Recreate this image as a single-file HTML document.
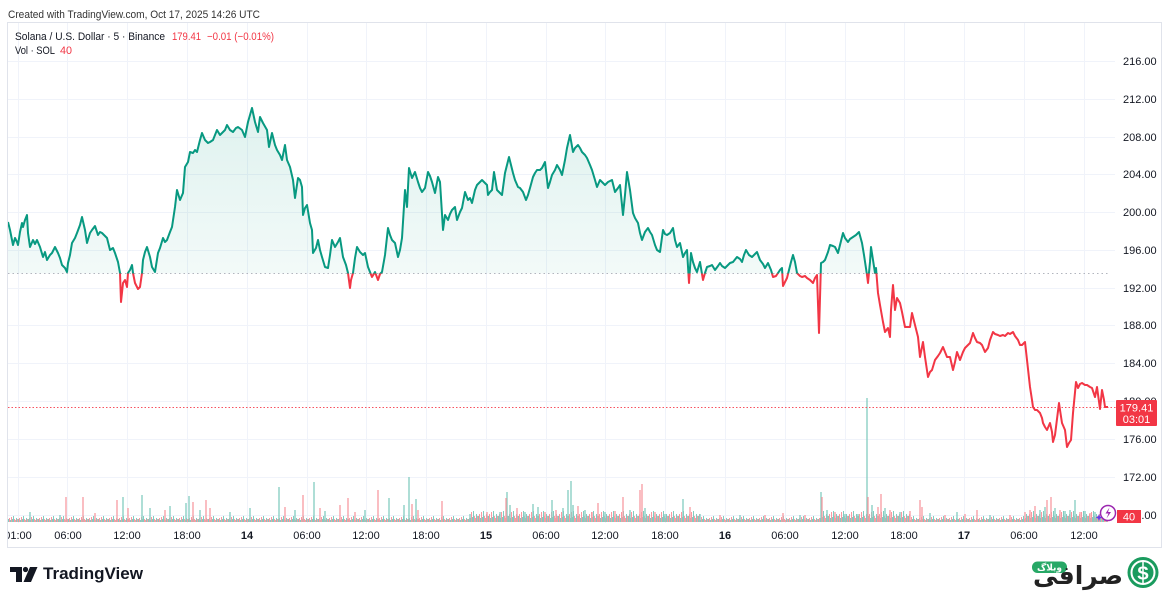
<!DOCTYPE html>
<html><head><meta charset="utf-8"><style>
html,body{margin:0;padding:0;background:#fff;}
svg{display:block;}
text{font-family:"Liberation Sans","DejaVu Sans",sans-serif;}
</style></head><body>
<svg width="1172" height="597" viewBox="0 0 1172 597" xmlns="http://www.w3.org/2000/svg">
<defs>
<clipPath id="chart"><rect x="8" y="23" width="1153" height="524"/></clipPath>
<clipPath id="up"><rect x="0" y="0" width="1172" height="273.5"/></clipPath>
<clipPath id="dn"><rect x="0" y="273.5" width="1172" height="330"/></clipPath>
<linearGradient id="gfill" gradientUnits="userSpaceOnUse" x1="0" y1="108" x2="0" y2="273.5">
<stop offset="0" stop-color="#089981" stop-opacity="0.13"/><stop offset="1" stop-color="#089981" stop-opacity="0.05"/></linearGradient>
<linearGradient id="rfill" gradientUnits="userSpaceOnUse" x1="0" y1="273.5" x2="0" y2="447">
<stop offset="0" stop-color="#F23645" stop-opacity="0.08"/><stop offset="1" stop-color="#F23645" stop-opacity="0.13"/></linearGradient>
<pattern id="pa" patternUnits="userSpaceOnUse" x="8" y="510" width="10" height="12">
<rect x="0" y="9" width="1" height="3" fill="#83ccc0"/><rect x="1" y="8" width="1" height="4" fill="#f89aa2"/>
<rect x="2" y="10" width="1" height="2" fill="#83ccc0"/><rect x="3" y="7" width="1" height="5" fill="#f89aa2"/>
<rect x="4" y="9" width="1" height="3" fill="#83ccc0"/><rect x="5" y="6" width="1" height="6" fill="#83ccc0"/>
<rect x="6" y="9" width="1" height="3" fill="#f89aa2"/><rect x="7" y="10" width="1" height="2" fill="#f89aa2"/>
<rect x="8" y="8" width="1" height="4" fill="#83ccc0"/><rect x="9" y="9" width="1" height="3" fill="#f89aa2"/>
</pattern>
<pattern id="pb" patternUnits="userSpaceOnUse" x="8" y="506" width="10" height="16">
<rect x="0" y="10" width="1" height="6" fill="#83ccc0"/><rect x="1" y="8" width="1" height="8" fill="#f89aa2"/>
<rect x="2" y="12" width="1" height="4" fill="#83ccc0"/><rect x="3" y="6" width="1" height="10" fill="#f89aa2"/>
<rect x="4" y="11" width="1" height="5" fill="#83ccc0"/><rect x="5" y="5" width="1" height="11" fill="#83ccc0"/>
<rect x="6" y="10" width="1" height="6" fill="#f89aa2"/><rect x="7" y="12" width="1" height="4" fill="#f89aa2"/>
<rect x="8" y="8" width="1" height="8" fill="#83ccc0"/><rect x="9" y="10" width="1" height="6" fill="#f89aa2"/>
</pattern>
</defs>

<!-- header -->
<text x="8" y="18" font-size="11" fill="#333" textLength="252" lengthAdjust="spacingAndGlyphs">Created with TradingView.com, Oct 17, 2025 14:26 UTC</text>

<!-- frame -->
<rect x="7.5" y="22.5" width="1154" height="525" fill="none" stroke="#e0e3eb" stroke-width="1"/>

<g clip-path="url(#chart)">
<!-- grid -->
<g stroke="#f0f3fa" stroke-width="1">
<path d="M18.5 23V523M67.5 23V523M127.5 23V523M187.5 23V523M247.5 23V523M307.5 23V523M366.5 23V523M426.5 23V523M486.5 23V523M546.5 23V523M605.5 23V523M665.5 23V523M725.5 23V523M785.5 23V523M845.5 23V523M904.5 23V523M964.5 23V523M1024.5 23V523M1084.5 23V523"/>
<path d="M8 61.5H1115M8 99.5H1115M8 137.5H1115M8 174.5H1115M8 212.5H1115M8 250.5H1115M8 288.5H1115M8 325.5H1115M8 363.5H1115M8 401.5H1115M8 439.5H1115M8 477.5H1115M8 515.5H1115"/>
</g>

<!-- volume -->
<rect x="8" y="510" width="1100" height="12" fill="url(#pa)"/>
<rect x="470" y="506" width="230" height="16" fill="url(#pb)"/>
<rect x="820" y="506" width="90" height="16" fill="url(#pb)"/>
<rect x="1025" y="506" width="80" height="16" fill="url(#pb)"/>
<path stroke="#83ccc0" stroke-width="1.3" fill="none" d="M123 522V497M142 522V495M186 522V503M189 522V496M279 522V487M314 522V482M389 522V498M30 522V512M60 522V515M150 522V508M170 522V506M200 522V510M230 522V512M250 522V508M295 522V510M325 522V511M365 522V510M404 522V505M409 522V477M416 522V499M470 522V514M500 522V512M507 522V492M510 522V505M525 522V512M533 522V504M538 522V507M552 522V500M563 522V508M568 522V490M571 522V481M573 522V505M585 522V510M605 522V512M630 522V510M645 522V508M665 522V514M683 522V499M700 522V514M740 522V515M800 522V515M821 522V492M827 522V510M845 522V514M858 522V514M867 522V398M872 522V505M885 522V508M900 522V512M930 522V513M957 522V512M990 522V515M1040 522V510M1045 522V507M1055 522V508M1065 522V511M1070 522V510M1075 522V500M1085 522V511M1095 522V512"/>
<path stroke="#f89aa2" stroke-width="1.3" fill="none" d="M66 522V497M83 522V497M117 522V500M128 522V508M193 522V502M206 522V500M303 522V495M340 522V505M348 522V498M378 522V490M95 522V513M165 522V510M210 522V508M285 522V507M320 522V508M355 522V512M412 522V504M418 522V510M442 522V501M487 522V512M506 522V498M517 522V508M545 522V512M556 522V510M578 522V506M592 522V512M598 522V503M615 522V511M623 522V497M640 522V490M642 522V484M655 522V512M690 522V507M720 522V515M765 522V515M783 522V513M805 522V515M822 522V497M835 522V512M868 522V497M878 522V507M881 522V494M890 522V510M910 522V511M920 522V500M922 522V507M945 522V515M965 522V514M977 522V510M1010 522V515M1025 522V512M1030 522V510M1035 522V506M1047 522V500M1051 522V497M1060 522V510M1080 522V512M1090 522V513"/>

<!-- fills -->
<polygon id="fillpoly" clip-path="url(#up)" fill="url(#gfill)" points="8,273.5 8,222 10,230 13,245 15,238 17,242 18,245 20,232 22,223 23,227 25,220 27,215 28,233 30,247 33,240 35,244 37,240 40,247 43,257 45,252 47,260 50,255 52,253 55,247 58,253 60,258 62,265 65,268 67,272 68,263 70,255 72,243 75,238 77,233 80,225 82,217 85,230 87,243 90,233 92,230 95,226 98,235 100,232 102,233 105,236 107,238 110,250 113,248 115,253 118,262 120,273 121,302 123,283 125,280 127,287 128,273 130,270 132,265 133,273 135,283 138,289 140,287 142,273 143,260 145,252 147,247 150,257 152,267 155,272 158,253 160,248 163,238 165,242 167,240 170,232 172,227 175,207 177,190 180,200 183,193 185,167 188,162 190,152 193,153 195,150 197,152 200,140 202,133 205,140 208,143 210,142 213,140 217,130 220,135 222,133 225,130 227,125 230,130 233,132 236,128 238,127 242,130 245,137 248,122 250,115 252,108 255,122 258,132 260,117 263,123 267,130 269,147 272,133 275,145 277,150 280,155 282,160 285,145 287,160 290,167 293,180 295,198 298,178 300,180 302,187 303,215 305,208 307,205 310,223 312,230 313,253 316,248 318,240 320,250 322,257 325,267 328,268 330,255 332,240 335,247 338,242 340,238 343,257 346,265 348,273 350,288 351,280 353,273 355,258 357,247 360,252 363,255 365,253 368,267 370,272 372,277 375,272 378,280 380,274 382,272 385,255 388,228 390,235 392,240 395,243 398,257 400,250 402,238 405,190 407,207 409,168 412,178 415,172 418,182 420,188 422,192 425,188 428,172 430,176 432,182 435,193 438,177 440,182 443,230 445,215 448,220 450,214 452,210 455,207 457,220 460,212 462,208 465,192 468,200 470,198 472,203 475,190 477,185 480,182 482,180 485,183 487,185 488,195 490,192 492,190 494,172 497,190 500,193 502,195 505,173 507,165 509,157 511,165 513,173 515,180 518,187 520,188 523,192 526,200 528,195 530,188 533,177 535,173 537,170 540,170 542,168 545,162 548,188 550,182 552,175 555,170 557,165 560,170 562,175 565,160 567,148 570,135 573,152 575,148 578,145 580,148 582,152 585,155 587,158 590,165 592,170 595,180 597,187 600,180 603,183 605,185 608,182 612,180 615,192 618,188 620,185 623,215 625,195 627,172 630,190 633,213 635,218 638,223 640,233 642,240 645,232 648,228 650,232 652,235 655,245 657,250 660,252 663,230 665,234 667,235 670,233 673,228 675,240 677,247 680,243 683,257 685,253 687,250 689,283 691,253 693,262 695,268 697,272 700,262 703,280 705,273 707,267 710,266 712,265 715,270 718,266 720,263 722,266 725,268 728,265 730,263 733,262 737,257 740,259 742,262 744,255 746,250 749,255 752,257 755,254 757,252 760,260 763,264 765,268 768,263 771,270 773,277 776,276 778,273 780,270 782,268 783,286 785,282 787,278 789,270 791,262 793,255 795,262 797,273 800,276 802,277 805,276 807,278 810,280 813,283 815,278 817,275 819,333 821,263 823,262 825,260 828,252 830,245 833,246 835,247 838,253 840,245 843,233 845,238 848,242 850,239 853,237 856,235 859,232 862,243 864,255 867,275 868,283 870,262 871,247 873,260 875,273 876,268 878,293 880,305 883,322 885,332 888,328 890,337 891,310 893,285 895,310 897,298 900,303 902,312 905,327 908,327 910,327 912,313 915,325 918,337 920,357 923,342 925,357 928,377 930,372 932,370 935,360 938,356 940,353 943,347 945,352 947,357 950,357 953,370 955,362 957,352 960,360 963,352 965,348 968,345 970,343 973,333 975,338 977,342 980,343 982,345 985,352 988,348 990,340 993,332 995,334 998,335 1000,336 1003,335 1005,336 1008,333 1010,334 1013,332 1015,336 1018,340 1020,345 1022,345 1025,342 1027,360 1030,387 1032,400 1033,407 1035,410 1037,410 1040,413 1042,418 1043,423 1045,427 1047,430 1050,423 1052,432 1053,442 1055,435 1056,427 1059,403 1060,410 1062,423 1065,430 1067,447 1069,443 1071,440 1073,413 1076,382 1078,388 1080,384 1082,383 1085,385 1087,385 1090,387 1092,388 1095,397 1097,387 1100,409 1102,390 1104,400 1105,407 1108,407 1108,273.5"/>
<use href="#fillpoly" clip-path="url(#dn)" fill="url(#rfill)"/>

<!-- baseline dotted -->
<line x1="8" y1="273.5" x2="1108" y2="273.5" stroke="#b2b5be" stroke-width="1" stroke-dasharray="1.5,3"/>
<!-- current price dotted -->
<line x1="8" y1="407.5" x2="1116" y2="407.5" stroke="#f7525f" stroke-width="1" stroke-dasharray="1.5,2"/>

<!-- line -->
<polyline id="pline" fill="none" stroke-width="2" stroke-linejoin="round" points="8,222 10,230 13,245 15,238 17,242 18,245 20,232 22,223 23,227 25,220 27,215 28,233 30,247 33,240 35,244 37,240 40,247 43,257 45,252 47,260 50,255 52,253 55,247 58,253 60,258 62,265 65,268 67,272 68,263 70,255 72,243 75,238 77,233 80,225 82,217 85,230 87,243 90,233 92,230 95,226 98,235 100,232 102,233 105,236 107,238 110,250 113,248 115,253 118,262 120,273 121,302 123,283 125,280 127,287 128,273 130,270 132,265 133,273 135,283 138,289 140,287 142,273 143,260 145,252 147,247 150,257 152,267 155,272 158,253 160,248 163,238 165,242 167,240 170,232 172,227 175,207 177,190 180,200 183,193 185,167 188,162 190,152 193,153 195,150 197,152 200,140 202,133 205,140 208,143 210,142 213,140 217,130 220,135 222,133 225,130 227,125 230,130 233,132 236,128 238,127 242,130 245,137 248,122 250,115 252,108 255,122 258,132 260,117 263,123 267,130 269,147 272,133 275,145 277,150 280,155 282,160 285,145 287,160 290,167 293,180 295,198 298,178 300,180 302,187 303,215 305,208 307,205 310,223 312,230 313,253 316,248 318,240 320,250 322,257 325,267 328,268 330,255 332,240 335,247 338,242 340,238 343,257 346,265 348,273 350,288 351,280 353,273 355,258 357,247 360,252 363,255 365,253 368,267 370,272 372,277 375,272 378,280 380,274 382,272 385,255 388,228 390,235 392,240 395,243 398,257 400,250 402,238 405,190 407,207 409,168 412,178 415,172 418,182 420,188 422,192 425,188 428,172 430,176 432,182 435,193 438,177 440,182 443,230 445,215 448,220 450,214 452,210 455,207 457,220 460,212 462,208 465,192 468,200 470,198 472,203 475,190 477,185 480,182 482,180 485,183 487,185 488,195 490,192 492,190 494,172 497,190 500,193 502,195 505,173 507,165 509,157 511,165 513,173 515,180 518,187 520,188 523,192 526,200 528,195 530,188 533,177 535,173 537,170 540,170 542,168 545,162 548,188 550,182 552,175 555,170 557,165 560,170 562,175 565,160 567,148 570,135 573,152 575,148 578,145 580,148 582,152 585,155 587,158 590,165 592,170 595,180 597,187 600,180 603,183 605,185 608,182 612,180 615,192 618,188 620,185 623,215 625,195 627,172 630,190 633,213 635,218 638,223 640,233 642,240 645,232 648,228 650,232 652,235 655,245 657,250 660,252 663,230 665,234 667,235 670,233 673,228 675,240 677,247 680,243 683,257 685,253 687,250 689,283 691,253 693,262 695,268 697,272 700,262 703,280 705,273 707,267 710,266 712,265 715,270 718,266 720,263 722,266 725,268 728,265 730,263 733,262 737,257 740,259 742,262 744,255 746,250 749,255 752,257 755,254 757,252 760,260 763,264 765,268 768,263 771,270 773,277 776,276 778,273 780,270 782,268 783,286 785,282 787,278 789,270 791,262 793,255 795,262 797,273 800,276 802,277 805,276 807,278 810,280 813,283 815,278 817,275 819,333 821,263 823,262 825,260 828,252 830,245 833,246 835,247 838,253 840,245 843,233 845,238 848,242 850,239 853,237 856,235 859,232 862,243 864,255 867,275 868,283 870,262 871,247 873,260 875,273 876,268 878,293 880,305 883,322 885,332 888,328 890,337 891,310 893,285 895,310 897,298 900,303 902,312 905,327 908,327 910,327 912,313 915,325 918,337 920,357 923,342 925,357 928,377 930,372 932,370 935,360 938,356 940,353 943,347 945,352 947,357 950,357 953,370 955,362 957,352 960,360 963,352 965,348 968,345 970,343 973,333 975,338 977,342 980,343 982,345 985,352 988,348 990,340 993,332 995,334 998,335 1000,336 1003,335 1005,336 1008,333 1010,334 1013,332 1015,336 1018,340 1020,345 1022,345 1025,342 1027,360 1030,387 1032,400 1033,407 1035,410 1037,410 1040,413 1042,418 1043,423 1045,427 1047,430 1050,423 1052,432 1053,442 1055,435 1056,427 1059,403 1060,410 1062,423 1065,430 1067,447 1069,443 1071,440 1073,413 1076,382 1078,388 1080,384 1082,383 1085,385 1087,385 1090,387 1092,388 1095,397 1097,387 1100,409 1102,390 1104,400 1105,407 1108,407"/>
<use href="#pline" clip-path="url(#up)" stroke="#089981"/>
<use href="#pline" clip-path="url(#dn)" stroke="#F23645"/>

<!-- time axis labels -->
<g font-size="11" fill="#131722" text-anchor="middle">
<text x="18" y="539">01:00</text><text x="68" y="539">06:00</text><text x="127" y="539">12:00</text><text x="187" y="539">18:00</text>
<text x="247" y="539" font-weight="bold">14</text><text x="307" y="539">06:00</text><text x="366" y="539">12:00</text><text x="426" y="539">18:00</text>
<text x="486" y="539" font-weight="bold">15</text><text x="546" y="539">06:00</text><text x="605" y="539">12:00</text><text x="665" y="539">18:00</text>
<text x="725" y="539" font-weight="bold">16</text><text x="785" y="539">06:00</text><text x="845" y="539">12:00</text><text x="904" y="539">18:00</text>
<text x="964" y="539" font-weight="bold">17</text><text x="1024" y="539">06:00</text><text x="1084" y="539">12:00</text>
</g>
</g>

<!-- price axis labels -->
<g font-size="11" fill="#131722">
<text x="1123" y="65">216.00</text><text x="1123" y="103">212.00</text><text x="1123" y="141">208.00</text>
<text x="1123" y="178">204.00</text><text x="1123" y="216">200.00</text><text x="1123" y="254">196.00</text>
<text x="1123" y="292">192.00</text><text x="1123" y="329">188.00</text><text x="1123" y="367">184.00</text>
<text x="1123" y="405">180.00</text><text x="1123" y="443">176.00</text><text x="1123" y="481">172.00</text>
<text x="1123" y="519">168.00</text>
</g>

<!-- current price label -->
<rect x="1116" y="400" width="41" height="26" rx="1" fill="#F23645"/>
<text x="1136.5" y="411.5" font-size="11" fill="#fff" text-anchor="middle">179.41</text>
<text x="1136.5" y="423" font-size="11" fill="#fff" text-anchor="middle">03:01</text>

<!-- volume label -->
<rect x="1117" y="510" width="24" height="13" fill="#F23645"/>
<text x="1129" y="520.5" font-size="11" fill="#fff" text-anchor="middle">40</text>

<!-- purple icon -->
<circle cx="1108" cy="513" r="7.5" fill="#fff" stroke="#9c27b0" stroke-width="1.5"/>
<path d="M1109.5 507.5 L1105.5 513.5 H1108.5 L1106.5 518.5 L1111 512 H1108 Z" fill="#9c27b0"/>
<path d="M1099 514 L1100 516.5 L1102.5 517.5 L1100 518.5 L1099 521 L1098 518.5 L1095.5 517.5 L1098 516.5 Z" fill="#6a3de8"/>

<!-- legend -->
<g font-size="11">
<text x="15" y="40" fill="#131722" textLength="150" lengthAdjust="spacingAndGlyphs">Solana / U.S. Dollar · 5 · Binance</text>
<text x="172" y="40" fill="#F23645" textLength="29" lengthAdjust="spacingAndGlyphs">179.41</text>
<text x="207" y="40" fill="#F23645" textLength="67" lengthAdjust="spacingAndGlyphs">−0.01 (−0.01%)</text>
<text x="15" y="54" fill="#131722" textLength="40" lengthAdjust="spacingAndGlyphs">Vol · SOL</text>
<text x="60" y="54" fill="#F23645" textLength="12" lengthAdjust="spacingAndGlyphs">40</text>
</g>

<!-- TradingView logo -->
<path d="M10 567 H22 V582 H16 V572 H10 Z" fill="#131722"/>
<circle cx="25.5" cy="569.5" r="2.6" fill="#131722"/>
<path d="M30 567 H37.5 L31 582 H23.5 Z" fill="#131722"/>
<text x="43" y="579" font-size="17" font-weight="bold" fill="#131722" textLength="100" lengthAdjust="spacingAndGlyphs">TradingView</text>

<!-- right logo -->
<rect x="1032" y="561.5" width="35" height="11.5" rx="5.5" fill="#27a866"/>
<text x="1049.5" y="570.5" font-size="9" font-weight="bold" fill="#fff" text-anchor="middle" font-family="DejaVu Sans, sans-serif">وبلاگ</text>
<text x="1123" y="584" font-size="25" font-weight="bold" fill="#222" text-anchor="end" font-family="DejaVu Sans, sans-serif">صرافی</text>
<circle cx="1143" cy="572.5" r="15.5" fill="#1a9b5e"/>
<circle cx="1143" cy="572.5" r="11.5" fill="none" stroke="#fff" stroke-width="2"/>
<text x="1143" y="579.5" font-size="18" font-weight="bold" fill="#fff" text-anchor="middle">S</text>
<line x1="1143" y1="562" x2="1143" y2="583" stroke="#fff" stroke-width="1.5"/>
</svg>
</body></html>
